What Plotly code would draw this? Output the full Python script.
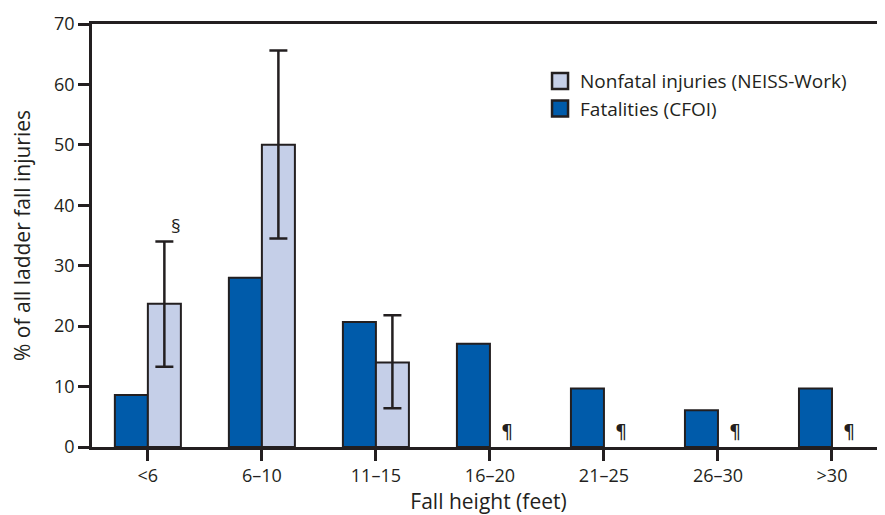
import plotly.graph_objects as go

categories = ["<6", "6–10", "11–15", "16–20", "21–25", "26–30", ">30"]
fatal = [8.6, 28.0, 20.7, 17.1, 9.7, 6.1, 9.7]
nonfatal = [23.7, 50.0, 14.0, None, None, None, None]
nonfatal_upper = [34.0, 65.6, 21.8, None, None, None, None]
nonfatal_lower = [13.3, 34.5, 6.4, None, None, None, None]
y_ticks = [0, 10, 20, 30, 40, 50, 60, 70]

ink = "#231f20"
font = "Open Sans"
c_fatal = "#005baa"
c_nonfatal = "#c5cfe8"

err_plus = [u - v if v is not None else None for u, v in zip(nonfatal_upper, nonfatal)]
err_minus = [v - l if v is not None else None for l, v in zip(nonfatal_lower, nonfatal)]

fig = go.Figure()
fig.add_trace(go.Bar(
    name="Fatalities (CFOI)", x=categories, y=fatal, showlegend=False,
    marker=dict(color=c_fatal, line=dict(color=ink, width=2)),
))
fig.add_trace(go.Bar(
    name="Nonfatal injuries (NEISS-Work)", x=categories, y=nonfatal, showlegend=False,
    marker=dict(color=c_nonfatal, line=dict(color=ink, width=2)),
    error_y=dict(type="data", symmetric=False, array=err_plus, arrayminus=err_minus,
                 color=ink, thickness=2.5, width=9),
))
# legend entries (larger square swatches)
fig.add_trace(go.Scatter(
    name="Fatalities (CFOI)", x=[None], y=[None], mode="markers",
    marker=dict(symbol="square", size=16, color=c_fatal, line=dict(color=ink, width=2.5)),
))
fig.add_trace(go.Scatter(
    name="Nonfatal injuries (NEISS-Work)", x=[None], y=[None], mode="markers",
    marker=dict(symbol="square", size=16, color=c_nonfatal, line=dict(color=ink, width=2.5)),
))

# footnote symbols
annots = []
annots.append(dict(x=categories[0], y=nonfatal_upper[0], text="§", showarrow=False,
                   xshift=28, yshift=16, font=dict(family=font, size=19, color=ink)))
for c, v in zip(categories, nonfatal):
    if v is None:
        annots.append(dict(x=c, y=0, text="¶", showarrow=False, xshift=17, yshift=16,
                           font=dict(family="DejaVu Sans", size=19, color=ink)))

fig.update_layout(
    width=877, height=507,
    margin=dict(l=84, r=0, t=16, b=67.5),
    paper_bgcolor="white", plot_bgcolor="white",
    barmode="group", bargap=0.421, bargroupgap=0,
    font=dict(family=font, color=ink, size=18),
    showlegend=True,
    legend=dict(x=0.565, y=0.91, xanchor="left", yanchor="top", traceorder="reversed",
                font=dict(family=font, size=19, color=ink), bgcolor="rgba(0,0,0,0)",
                tracegroupgap=0),
    annotations=annots,
    xaxis=dict(type="category", range=[-0.49, 6.465], showline=True, linewidth=2.5,
               linecolor=ink, mirror=True, ticks="outside", ticklen=11, tickwidth=2.5,
               tickcolor=ink, tickfont=dict(size=18), showgrid=False,
               title=dict(text="Fall height (feet)", font=dict(size=21), standoff=8)),
    yaxis=dict(range=[0, 70], tickvals=y_ticks, showline=True, linewidth=2.5,
               linecolor=ink, ticks="outside", ticklen=11, tickwidth=2.5, tickcolor=ink,
               tickfont=dict(size=18), showgrid=False, zeroline=False,
               title=dict(text="% of all ladder fall injuries", font=dict(size=21), standoff=18)),
)

fig.write_html("out.html")
